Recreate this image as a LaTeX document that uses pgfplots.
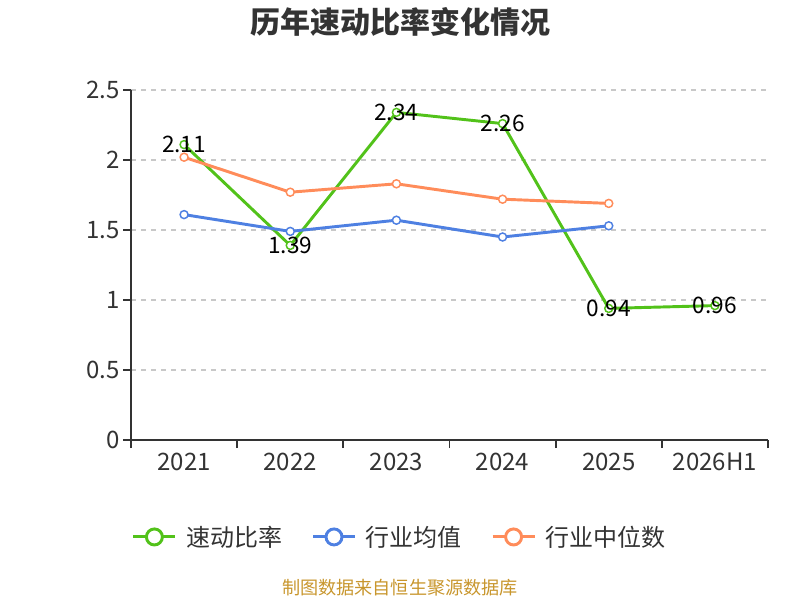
\documentclass[border=0pt]{standalone}
\usepackage{pgfplots}
\pgfplotsset{compat=1.18}
\usepackage{fontspec}
\setmainfont{Noto Sans CJK SC}
\definecolor{cgreen}{RGB}{82,194,26}
\definecolor{cblue}{RGB}{78,128,226}
\definecolor{corange}{RGB}{255,140,90}
\definecolor{ctext}{RGB}{51,51,51}
\definecolor{cgrid}{RGB}{200,200,200}
\definecolor{csrc}{RGB}{200,150,45}
\begin{document}
\begin{tikzpicture}
\path[use as bounding box] (0,0) rectangle (600pt,450pt);
\node[font=\fontsize{22.5}{26}\selectfont\bfseries, text=ctext] at (300pt,433.5pt) {历年速动比率变化情况};
\node[font=\fontsize{13.6}{15}\selectfont, text=csrc] at (300pt,9.5pt) {制图数据来自恒生聚源数据库};
\begin{axis}[
  at={(98.25pt,120pt)}, anchor=south west,
  width=477.75pt, height=262.5pt, scale only axis,
  xmin=-0.5, xmax=5.5, ymin=0, ymax=2.5,
  axis x line*=bottom, axis y line*=left,
  axis line style={ctext, line width=1.3pt},
  xtick={0,1,2,3,4,5},
  xticklabels={2021,2022,2023,2024,2025,2026H1},
  minor xtick={-0.5,0.5,1.5,2.5,3.5,4.5,5.5},
  ytick={0,0.5,1,1.5,2,2.5},
  yticklabels={0,0.5,1,1.5,2,2.5},
  tick align=outside,
  major tick length=6pt,
  minor tick length=6pt,
  x tick style={draw=none},
  minor x tick style={draw=ctext, line width=1.3pt},
  y tick style={ctext, line width=1.3pt},
  ymajorgrids,
  major grid style={cgrid, dash pattern=on 4pt off 3.5pt, line width=0.9pt},
  ticklabel style={font=\fontsize{18}{20}\selectfont, text=ctext},
  yticklabel style={xshift=1pt},
  /pgf/number format/assume math mode=true,
  legend style={at={(0.4223,-0.277)}, anchor=center, draw=none, fill=none,
    font=\fontsize{18}{20}\selectfont, text=ctext, legend columns=3,
    /tikz/every odd column/.append style={column sep=5pt},
    /tikz/every even column/.append style={column sep=20pt}},
  legend image code/.code={
    \draw[#1, mark=none] (0pt,0pt) -- (31.5pt,0pt);
    \draw[#1, mark=none, fill=white] (15.75pt,0pt) circle (6pt);
  },
]
\addplot[cgreen, line width=2.2pt, mark=*, mark size=3pt, mark options={fill=white, line width=1.1pt},
  nodes near coords,
  every node near coord/.style={anchor=center, text=black, font=\fontsize{17}{19}\selectfont}]
  coordinates {(0,2.11) (1,1.39) (2,2.34) (3,2.26) (4,0.94) (5,0.96)};
\addlegendentry{速动比率}
\addplot[cblue, line width=2.2pt, mark=*, mark size=3pt, mark options={fill=white, line width=1.1pt}]
  coordinates {(0,1.61) (1,1.49) (2,1.57) (3,1.45) (4,1.53)};
\addlegendentry{行业均值}
\addplot[corange, line width=2.2pt, mark=*, mark size=3pt, mark options={fill=white, line width=1.1pt}]
  coordinates {(0,2.02) (1,1.77) (2,1.83) (3,1.72) (4,1.69)};
\addlegendentry{行业中位数}
\end{axis}
\end{tikzpicture}
\end{document}
